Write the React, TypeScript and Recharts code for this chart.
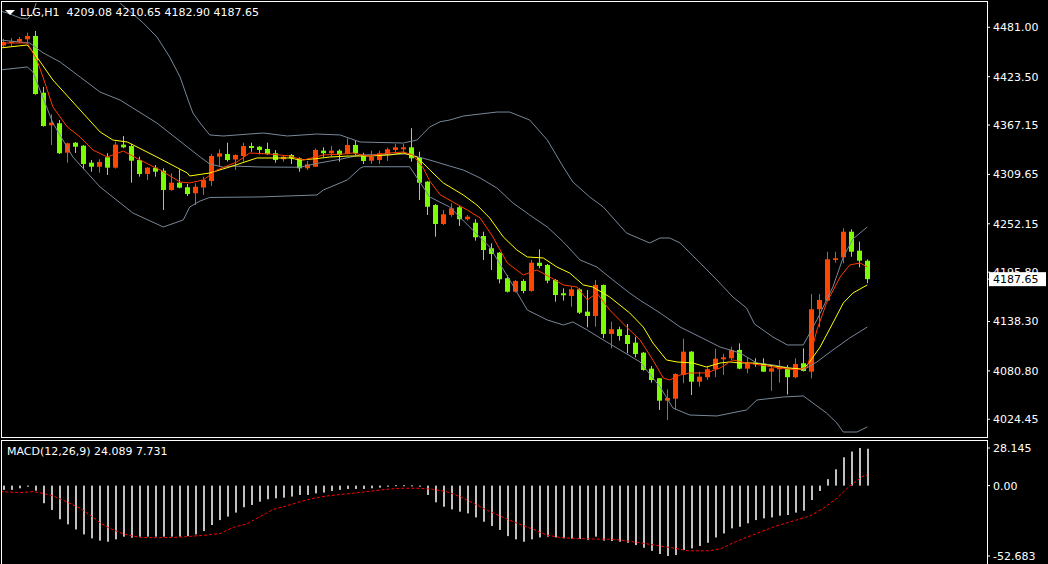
import { Bar, ComposedChart, Line, XAxis, YAxis } from 'recharts'

const TITLE = 'LLG,H1  4209.08 4210.65 4182.90 4187.65'
const MACD_TITLE = 'MACD(12,26,9) 24.089 7.731'
const LAST_PRICE = 4187.65

// one candle per hour, index 0..108
const OPEN = [
  4459.8, 4462.7, 4464.2, 4467.0, 4470.9, 4404.8, 4366.9, 4369.2, 4335.0, 4346.6,
  4343.1, 4323.3, 4318.6, 4329.6, 4317.5, 4344.3, 4342.7, 4326.4, 4310.1, 4317.5,
  4314.0, 4291.5, 4300.0, 4294.7, 4287.7, 4294.4, 4302.0, 4330.3, 4333.4, 4327.0,
  4331.1, 4342.7, 4341.9, 4339.3, 4334.3, 4327.3, 4332.3, 4328.4, 4316.8, 4318.6,
  4337.3, 4334.3, 4337.3, 4333.4, 4343.9, 4332.3, 4325.6, 4326.4, 4333.1, 4338.1,
  4338.9, 4341.2, 4329.4, 4301.2, 4274.0, 4251.9, 4262.4, 4271.4, 4257.4, 4253.4,
  4237.9, 4223.6, 4218.5, 4188.7, 4173.0, 4185.5, 4173.9, 4206.8, 4204.2, 4186.7,
  4171.2, 4168.0, 4175.8, 4149.8, 4144.8, 4180.9, 4123.8, 4129.3, 4122.6, 4113.7,
  4102.0, 4083.4, 4072.2, 4046.1, 4048.4, 4076.0, 4103.2, 4068.2, 4073.4, 4082.7,
  4094.3, 4095.5, 4105.2, 4083.4, 4090.4, 4089.4, 4079.9, 4082.7, 4083.8, 4073.4,
  4089.7, 4079.9, 4152.6, 4162.6, 4210.0, 4213.1, 4242.9, 4220.8, 4209.08,
]
const HIGH = [
  4467.4, 4468.5, 4469.7, 4474.7, 4476.7, 4411.5, 4379.7, 4373.0, 4346.6, 4347.4,
  4343.9, 4326.4, 4327.3, 4334.3, 4347.8, 4354.4, 4345.1, 4330.3, 4318.3, 4320.6,
  4316.8, 4311.0, 4315.6, 4298.5, 4299.3, 4307.0, 4333.4, 4338.9, 4346.6, 4332.9,
  4346.6, 4346.6, 4342.7, 4346.6, 4338.1, 4332.3, 4333.4, 4329.6, 4325.3, 4339.8,
  4341.2, 4342.7, 4338.9, 4351.7, 4348.9, 4334.9, 4337.3, 4337.3, 4340.8, 4345.1,
  4345.1, 4363.4, 4336.1, 4302.0, 4275.2, 4268.2, 4276.0, 4272.9, 4262.4, 4257.4,
  4242.9, 4229.4, 4219.3, 4192.5, 4186.7, 4187.5, 4210.0, 4222.4, 4205.3, 4187.9,
  4177.0, 4178.9, 4177.0, 4175.0, 4186.7, 4181.4, 4138.1, 4132.3, 4135.4, 4120.6,
  4102.8, 4086.5, 4072.5, 4059.4, 4078.0, 4118.3, 4104.0, 4079.9, 4086.5, 4106.7,
  4100.5, 4109.0, 4112.9, 4096.6, 4095.5, 4095.5, 4087.7, 4093.5, 4087.7, 4095.5,
  4107.1, 4170.4, 4170.4, 4219.6, 4219.6, 4246.9, 4245.7, 4231.3, 4210.65,
]
const LOW = [
  4458.1, 4459.2, 4462.7, 4463.1, 4402.5, 4365.2, 4343.9, 4333.4, 4323.3, 4334.6,
  4315.6, 4312.8, 4311.7, 4309.0, 4316.5, 4340.1, 4300.0, 4307.0, 4303.2, 4307.0,
  4268.2, 4290.7, 4293.5, 4284.5, 4274.0, 4285.7, 4296.2, 4318.9, 4324.7, 4314.8,
  4324.5, 4336.1, 4333.1, 4332.3, 4323.3, 4324.5, 4321.8, 4312.8, 4314.8, 4318.3,
  4330.3, 4330.3, 4324.5, 4332.9, 4332.3, 4321.8, 4321.8, 4321.8, 4325.3, 4334.3,
  4334.6, 4324.5, 4279.9, 4262.4, 4237.1, 4250.7, 4260.4, 4249.6, 4255.7, 4232.5,
  4210.0, 4198.3, 4182.8, 4172.1, 4172.1, 4171.2, 4173.0, 4200.3, 4182.8, 4161.4,
  4162.6, 4155.6, 4147.1, 4131.6, 4132.3, 4118.8, 4107.1, 4116.0, 4101.3, 4096.6,
  4081.0, 4067.1, 4035.3, 4023.6, 4036.1, 4066.4, 4052.7, 4062.4, 4070.2, 4073.4,
  4076.0, 4093.5, 4082.7, 4078.0, 4085.7, 4079.5, 4057.7, 4067.1, 4053.3, 4072.2,
  4080.1, 4072.2, 4131.6, 4162.2, 4206.8, 4206.1, 4213.8, 4201.5, 4182.9,
]
const CLOSE = [
  4463.9, 4464.5, 4467.4, 4470.9, 4403.3, 4366.0, 4369.9, 4334.3, 4345.9, 4341.9,
  4321.8, 4318.6, 4324.1, 4317.5, 4344.3, 4341.2, 4325.6, 4310.1, 4317.5, 4312.8,
  4291.5, 4300.0, 4294.2, 4286.8, 4295.3, 4303.2, 4331.1, 4334.3, 4326.4, 4332.3,
  4342.7, 4340.4, 4338.1, 4333.4, 4326.4, 4330.3, 4328.4, 4316.8, 4321.4, 4338.1,
  4334.3, 4337.3, 4332.3, 4343.9, 4334.3, 4325.3, 4330.3, 4334.3, 4338.9, 4341.2,
  4341.2, 4328.4, 4300.0, 4272.0, 4251.9, 4263.2, 4270.2, 4257.4, 4260.4, 4236.4,
  4221.6, 4217.0, 4187.5, 4173.0, 4185.5, 4173.9, 4206.8, 4203.0, 4185.9, 4169.2,
  4168.9, 4175.8, 4148.6, 4144.8, 4180.9, 4123.8, 4129.3, 4121.5, 4112.1, 4100.5,
  4081.9, 4070.2, 4046.1, 4049.2, 4077.2, 4103.2, 4068.2, 4074.1, 4082.7, 4095.0,
  4096.6, 4105.2, 4083.4, 4090.4, 4088.8, 4079.9, 4083.8, 4085.7, 4073.4, 4088.8,
  4080.7, 4152.6, 4163.4, 4210.8, 4212.0, 4242.9, 4219.6, 4209.2, 4187.65,
]

// MACD histogram, same indexes as the candles
const MACD_HIST = [
  -3.2, -3.2, -2.0, -0.8, -3.8, -13.2, -18.2, -25.2, -29.0, -32.8,
  -36.5, -39.5, -41.2, -42.0, -40.2, -38.2, -39.0, -38.2, -38.2, -38.2,
  -38.2, -38.2, -38.2, -37.8, -36.5, -34.0, -29.5, -25.8, -23.2, -20.2,
  -16.2, -14.5, -12.0, -10.2, -9.5, -9.0, -8.2, -7.0, -7.0, -5.8,
  -5.2, -4.0, -3.2, -2.5, -2.5, -2.5, -2.0, -1.5, -0.8, 0.3,
  0.3, 0.2, -0.8, -7.0, -12.5, -15.8, -17.8, -19.5, -20.8, -23.8,
  -27.0, -30.2, -33.2, -37.8, -40.2, -42.0, -40.2, -38.8, -38.2, -38.8,
  -39.5, -39.8, -40.0, -40.8, -38.2, -41.2, -41.5, -42.0, -42.8, -44.5,
  -46.5, -48.8, -51.2, -52.683, -52.0, -48.2, -47.0, -45.2, -42.8, -38.8,
  -35.8, -32.0, -30.8, -28.2, -25.8, -24.5, -23.8, -22.5, -22.0, -20.2,
  -18.8, -10.8, -4.0, 4.8, 12.2, 21.2, 25.5, 28.145, 27.6,
]

// [candle index, value]
const MACD_SIGNAL = [
  [-0.4, -4.5], [2.1, -5.2], [3.75, -4.5], [5, -5.8], [6.25, -7.8], [7.9, -12], [9.6, -17],
  [11.25, -23.8], [12.1, -27.8], [13.3, -32], [15, -36.2], [17.1, -38.8], [19.2, -39],
  [21.25, -38.8], [22.9, -38.2], [25.4, -37], [27.1, -35.8], [28.75, -31.2], [30.4, -28.8],
  [32.1, -23.2], [33.75, -17.8], [35.4, -15.2], [37.1, -12], [38.75, -9.5], [40.4, -7.8],
  [42.9, -6.2], [45.4, -4.5], [47.9, -2.8], [49.6, -2], [52.1, -2], [53.75, -2.8],
  [55.4, -4.5], [57.1, -8.2], [58.75, -13.2], [60.4, -18.2], [62.1, -22.8], [63.75, -27],
  [65.0, -30], [66.3, -32.8], [67.9, -37], [69.6, -38.8], [71.3, -39.5], [73.9, -40],
  [76.4, -40.2], [78.9, -42.2], [81.4, -44.5], [84.0, -47], [85.6, -48.8], [88.2, -48.8],
  [89.8, -47], [91.5, -42], [94.0, -36.2], [96.6, -30.2], [99.1, -25.8], [100.8, -22.8],
  [102.5, -17], [104.2, -9.5], [105.8, -0.2], [107.5, 7.2], [108, 7.731],
]

const BB_UPPER = [
  [-0.4, 4500], [0.5, 4497.7], [2.1, 4491.8], [3.0, 4490.7], [3.7, 4497.7], [4.2, 4512],
  [5.8, 4525], [7.1, 4531], [9.6, 4528], [12.1, 4520], [14.6, 4509.3], [17.5, 4486.0],
  [19.2, 4469.7], [20.8, 4446.4], [22.1, 4423.1], [23.1, 4396.3], [23.7, 4381.2],
  [24.6, 4369.5], [25.8, 4355.6], [27.5, 4354.4], [32.5, 4357.9], [35.5, 4354.4],
  [39.2, 4356.7], [42.1, 4355.6], [44.6, 4347.4], [50.0, 4346.2], [51.7, 4349.7],
  [53.3, 4364.9], [54.6, 4371], [55.8, 4373.0], [57.5, 4377.7], [61.7, 4382.3],
  [63.3, 4382.3], [65.8, 4373.0], [68.0, 4349.7], [70.0, 4318.3], [71.2, 4300.8],
  [73.3, 4283.4], [75.0, 4271.7], [77.9, 4241.4], [80.8, 4229.8], [82.1, 4235.6],
  [83.3, 4235.6], [84.6, 4229.8], [87.1, 4206.5], [89.2, 4186.7], [91.2, 4166.9],
  [92.9, 4154.1], [93.9, 4135.4], [96.2, 4120.3], [98.0, 4111.0], [100.0, 4111.0],
  [101.7, 4140.1], [103.7, 4178.5], [105.0, 4213.5], [106.2, 4234.4], [108.0, 4248.4],
]
const BB_MIDDLE = [
  [-0.4, 4466.2], [3.3, 4462.7], [5.0, 4451.1], [7.1, 4440.6], [9.6, 4423.1], [12.1, 4405.6],
  [14.6, 4396.3], [16.2, 4387.0], [19.2, 4369.5], [24.6, 4330.0], [25.8, 4321.8],
  [27.5, 4318.0], [28.7, 4319.4], [32.1, 4318.3], [37.1, 4318.0], [39.2, 4322.5],
  [42.1, 4327.2], [44.6, 4332.3], [50.5, 4333.4], [52.5, 4328.4], [53.3, 4326.4],
  [55.8, 4319.4], [57.5, 4314.8], [59.6, 4305.5], [61.7, 4293.8], [63.7, 4276.4],
  [65.8, 4262.4], [68.0, 4248.4], [70.0, 4231.0], [72.1, 4210.0], [74.2, 4201.8],
  [76.2, 4186.7], [78.3, 4171.5], [79.6, 4163.0], [82.1, 4148.3], [84.6, 4131.9],
  [87.1, 4120.3], [89.6, 4108.6], [92.1, 4101.6], [94.2, 4090.0], [96.2, 4087.7],
  [98.3, 4084.2], [100.0, 4081.9], [101.7, 4091.2], [103.7, 4105.2], [105.8, 4119.1],
  [108.0, 4131.9],
]
const BB_LOWER = [
  [-0.4, 4431.3], [3.0, 4434.8], [3.7, 4428.9], [6.2, 4369.5], [8.7, 4329.9], [12.1, 4295.0],
  [16.2, 4264.7], [20.0, 4248.4], [22.5, 4256.6], [23.3, 4271.7], [24.6, 4278.7],
  [25.8, 4282.8], [32.1, 4283.4], [39.2, 4285.7], [40.0, 4291.5], [43.0, 4303.2],
  [44.6, 4316.8], [45.0, 4318.6], [50.8, 4318.6], [53.3, 4283.4], [55.8, 4271.7],
  [58.3, 4248.4], [60.8, 4225.1], [63.3, 4186.7], [65.5, 4151.7], [68.0, 4140.1],
  [70.0, 4134.3], [71.2, 4137.8], [73.0, 4128.4], [74.6, 4119.1], [79.6, 4091.2],
  [82.1, 4062.1], [83.7, 4037.6], [85.8, 4029.4], [89.2, 4028.3], [92.9, 4035.3],
  [94.2, 4046.9], [97.5, 4050.4], [100.0, 4051.6], [101.2, 4043.4], [102.9, 4031.8],
  [104.2, 4020.1], [105.0, 4009.6], [106.7, 4009.6], [108.0, 4015.5],
]
const MA_SLOW = [
  [-0.4, 4456.9], [3.0, 4460.4], [4.2, 4446.4], [6.2, 4419.6], [9.6, 4384.7], [12.1, 4359.1],
  [13.7, 4349.7], [15.5, 4347.4], [19.2, 4329.9], [23.0, 4311.3], [23.3, 4307.8],
  [25.8, 4311.3], [28.3, 4318.3], [31.7, 4328.8], [35.8, 4328.8], [37.1, 4326.4],
  [38.7, 4327.6], [40.8, 4329.9], [43.3, 4331.1], [45.8, 4331.1], [48.3, 4332.3],
  [50.0, 4334.6], [51.7, 4329.9], [53.3, 4315.0], [55.0, 4299.7], [57.5, 4285.7],
  [59.2, 4274.0], [60.8, 4258.9], [62.5, 4236.8], [64.2, 4221.6], [65.5, 4213.5],
  [67.5, 4212.3], [69.2, 4201.8], [70.8, 4194.8], [72.5, 4180.9], [73.7, 4178.5],
  [75.8, 4166.9], [78.3, 4148.3], [80.0, 4131.9], [81.2, 4113.3], [82.9, 4093.5],
  [84.2, 4091.2], [86.2, 4090.0], [87.9, 4085.3], [89.6, 4090.0], [90.8, 4091.2],
  [92.1, 4090.0], [93.7, 4090.0], [95.5, 4087.7], [98.0, 4084.2], [100.0, 4083.0],
  [100.8, 4091.2], [102.1, 4108.6], [103.7, 4136.6], [105.0, 4159.9], [106.2, 4171.5],
  [108.0, 4180.9],
]
const MA_FAST = [
  [-0.4, 4462.7], [3.0, 4462.7], [4.2, 4442.9], [5.0, 4422.0], [6.2, 4388.2], [8.0, 4364.9],
  [9.6, 4353.2], [11.2, 4338.1], [13.0, 4329.9], [15.0, 4336.9], [17.1, 4326.4],
  [19.6, 4314.8], [22.1, 4300.8], [23.3, 4299.7], [25.0, 4303.2], [26.7, 4314.8],
  [29.2, 4324.1], [30.8, 4334.6], [33.3, 4333.4], [35.8, 4331.1], [37.5, 4326.4],
  [40.0, 4332.3], [42.5, 4333.4], [43.7, 4334.6], [45.5, 4331.1], [48.3, 4334.6],
  [50.0, 4335.8], [51.2, 4332.3], [52.5, 4317.1], [53.3, 4302.0], [54.6, 4286.0],
  [56.2, 4277.5], [58.0, 4268.2], [59.6, 4258.9], [61.2, 4236.8], [63.0, 4206.5],
  [65.0, 4192.5], [66.7, 4198.3], [68.3, 4190.2], [70.0, 4180.9], [71.7, 4178.5],
  [73.0, 4163.4], [74.2, 4171.5], [75.8, 4151.7], [77.9, 4131.9], [79.6, 4116.8],
  [81.2, 4093.5], [82.5, 4072.5], [83.3, 4070.2], [84.6, 4076.0], [85.8, 4078.4],
  [87.9, 4078.4], [89.6, 4084.2], [91.2, 4093.5], [92.9, 4090.0], [94.6, 4087.7],
  [97.1, 4084.2], [99.2, 4081.9], [100.5, 4085.3], [101.7, 4128.4], [102.9, 4159.9],
  [104.6, 4190.2], [105.8, 4204.2], [107.1, 4206.5], [108.0, 4201.8],
]

// last price goes last so its tag is painted over the 4195.80 label
const PRICE_TICKS = [4024.45, 4080.8, 4138.3, 4195.8, 4252.15, 4309.65, 4367.15, 4423.5, 4481.0, LAST_PRICE]
const MACD_TICKS = [-52.683, 0, 28.145]
const MACD_TICK_LABELS = ['-52.683', '0.00', '28.145']

const X_DOMAIN = [-0.1625, 122.9625]
const PRICE_DOMAIN = [4003.8, 4509.3]
const MACD_DOMAIN = [-52.683, 28.145]

const UP = '#FF4500'
const DOWN = '#7CFC00'
const BAND = '#778899'
const FONT = 'DejaVu Sans'

const candles = OPEN.map((o, k) => ({
  k, o, h: HIGH[k], l: LOW[k], c: CLOSE[k], hist: MACD_HIST[k],
}))
const pts = (list: number[][]) => list.map(([k, v]) => ({ k, v }))

function Candle(props: any) {
  const { x, y, width, height, payload } = props
  if (!payload || height == null) return null
  const { o, h, l, c } = payload
  const per = h === l ? 0 : height / (h - l)
  const at = (v: number) => y + (h - v) * per
  const cx = Math.floor(x + width / 2)
  const color = c >= o ? UP : DOWN
  const top = at(Math.max(o, c))
  const bodyH = Math.max(1, at(Math.min(o, c)) - top)
  return (
    <g>
      <rect x={cx} y={y} width={1} height={Math.max(1, height)} fill={color} />
      <rect x={cx - 2} y={top} width={5} height={bodyH} fill={color} />
    </g>
  )
}

function HistBar(props: any) {
  const { x, y, width, height } = props
  if (height == null) return null
  const cx = Math.floor(x + width / 2)
  const top = Math.min(y, y + height)
  return <rect x={cx} y={top} width={2} height={Math.max(1, Math.abs(height))} fill="#C0C0C0" />
}

function PriceTick(props: any) {
  const { x, y, payload } = props
  const v = payload.value
  if (v === LAST_PRICE) {
    return (
      <g>
        <rect x={x - 4} y={y - 7} width={57} height={14} fill="#fff" />
        <text x={x} y={y} dy="0.355em" fill="#000" fontSize={11} fontFamily={FONT}>
          {v.toFixed(2)}
        </text>
      </g>
    )
  }
  return (
    <text x={x} y={y} dy="0.355em" fill="#fff" fontSize={11} fontFamily={FONT}>
      {v.toFixed(2)}
    </text>
  )
}

function MacdTick(props: any) {
  const { x, y, payload } = props
  const label = MACD_TICK_LABELS[MACD_TICKS.indexOf(payload.value)] ?? String(payload.value)
  return (
    <text x={x} y={y} dy="0.355em" fill="#fff" fontSize={11} fontFamily={FONT}>
      {label}
    </text>
  )
}

export default function App() {
  return (
    <div
      style={{
        position: 'fixed', left: 0, top: 0, width: 1048, height: 564,
        background: '#000', overflow: 'hidden', fontFamily: FONT,
      }}
    >
      <div style={{ position: 'absolute', left: 0, top: 0 }}>
        <ComposedChart width={1048} height={440} data={candles} margin={{ top: 3, right: 0, bottom: 3, left: 2 }}>
          <XAxis dataKey="k" type="number" domain={X_DOMAIN} allowDataOverflow hide />
          <YAxis
            orientation="right"
            width={61}
            domain={PRICE_DOMAIN}
            allowDataOverflow
            ticks={PRICE_TICKS}
            interval={0}
            tick={<PriceTick />}
            tickLine={{ stroke: '#fff' }}
            tickSize={3}
            tickMargin={3}
            axisLine={false}
          />
          <Bar dataKey={(d: any) => [d.l, d.h]} shape={<Candle />} barSize={5} isAnimationActive={false} />
          <Line data={pts(BB_UPPER)} dataKey="v" stroke={BAND} strokeWidth={1} dot={false} isAnimationActive={false} />
          <Line data={pts(BB_MIDDLE)} dataKey="v" stroke={BAND} strokeWidth={1} dot={false} isAnimationActive={false} />
          <Line data={pts(BB_LOWER)} dataKey="v" stroke={BAND} strokeWidth={1} dot={false} isAnimationActive={false} />
          <Line data={pts(MA_SLOW)} dataKey="v" stroke="#FFFF00" strokeWidth={1} dot={false} isAnimationActive={false} />
          <Line data={pts(MA_FAST)} dataKey="v" stroke="#FF3A00" strokeWidth={1} dot={false} isAnimationActive={false} />
        </ComposedChart>
      </div>

      <div style={{ position: 'absolute', left: 0, top: 440 }}>
        <ComposedChart width={1048} height={124} data={candles} margin={{ top: 8, right: 0, bottom: 8, left: 2 }}>
          <XAxis dataKey="k" type="number" domain={X_DOMAIN} allowDataOverflow hide />
          <YAxis
            orientation="right"
            width={61}
            domain={MACD_DOMAIN}
            allowDataOverflow
            ticks={MACD_TICKS}
            interval={0}
            tick={<MacdTick />}
            tickLine={{ stroke: '#fff' }}
            tickSize={3}
            tickMargin={3}
            axisLine={false}
          />
          <Bar dataKey="hist" shape={<HistBar />} barSize={2} isAnimationActive={false} />
          <Line
            data={pts(MACD_SIGNAL)}
            dataKey="v"
            stroke="#FF0000"
            strokeWidth={1}
            strokeDasharray="3 2"
            dot={false}
            isAnimationActive={false}
          />
        </ComposedChart>
      </div>

      {/* panel frames */}
      <div style={{ position: 'absolute', left: 1, top: 1, width: 987, height: 437, boxSizing: 'border-box', border: '1px solid #fff', pointerEvents: 'none' }} />
      <div style={{ position: 'absolute', left: 1, top: 440, width: 987, height: 140, boxSizing: 'border-box', border: '1px solid #fff', pointerEvents: 'none' }} />

      <svg style={{ position: 'absolute', left: 5, top: 10 }} width={11} height={6}>
        <polygon points="0,0 10,0 5,5" fill="#fff" />
      </svg>
      <div style={{ position: 'absolute', left: 20, top: 6, color: '#fff', fontSize: 11, lineHeight: '13px', whiteSpace: 'pre' }}>
        {TITLE}
      </div>
      <div style={{ position: 'absolute', left: 7, top: 445, color: '#fff', fontSize: 11, lineHeight: '13px', whiteSpace: 'pre' }}>
        {MACD_TITLE}
      </div>
    </div>
  )
}
